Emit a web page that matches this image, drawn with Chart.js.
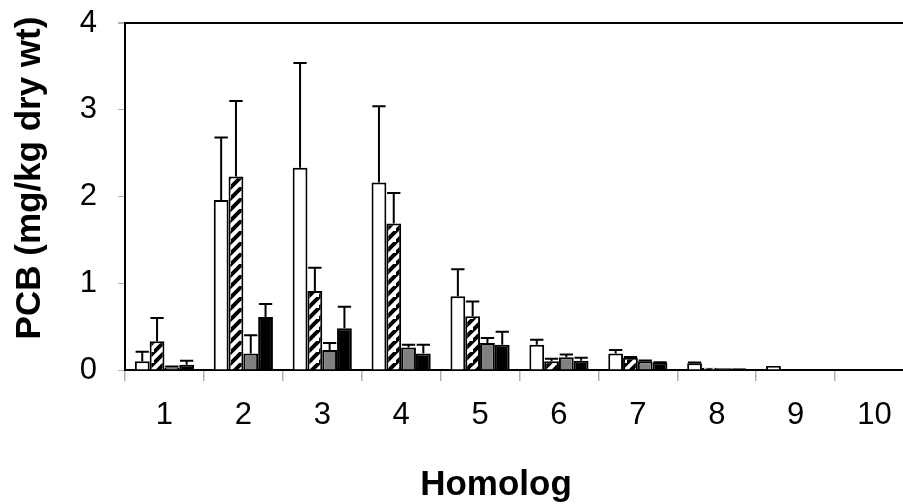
<!DOCTYPE html>
<html>
<head>
<meta charset="utf-8">
<script src="https://cdn.jsdelivr.net/npm/chart.js@4/dist/chart.umd.min.js"></script>
<style>
html,body{margin:0;padding:0;background:#fff;overflow:hidden;width:903px;height:504px;}
canvas{display:block;}
</style>
</head>
<body>
<canvas id="c" width="914" height="504" style="width:914px;height:504px"></canvas>
<script>
const categories = ['1','2','3','4','5','6','7','8','9','10'];
const yTicks = [0,1,2,3,4];
const whiteVals  = [0.10, 1.96, 2.33, 2.16, 0.85, 0.29, 0.19, 0.077, 0.045, 0];
const whiteErr   = [0.11, 0.72, 1.21, 0.88, 0.31, 0.06, 0.04, 0.010, 0, 0];
const hatchVals  = [0.33, 2.23, 0.91, 1.69, 0.62, 0.10, 0.14, 0.027, 0, 0];
const hatchErr   = [0.27, 0.87, 0.27, 0.35, 0.17, 0.03, 0.01, 0, 0, 0];
const greyVals   = [0.03, 0.19, 0.23, 0.26, 0.31, 0.146, 0.10, 0.02, 0, 0];
const greyErr    = [0.01, 0.21, 0.08, 0.03, 0.06, 0.034, 0.01, 0, 0, 0];
const blackVals  = [0.06, 0.61, 0.48, 0.19, 0.29, 0.107, 0.085, 0.02, 0, 0];
const blackErr   = [0.047, 0.15, 0.25, 0.10, 0.15, 0.033, 0.005, 0, 0, 0];
const yTitle = 'PCB (mg/kg dry wt)';
const xTitle = 'Homolog';

function hatch(){
  const t = document.createElement('canvas');
  const s = 11;
  t.width = s; t.height = s;
  const g = t.getContext('2d');
  g.fillStyle = '#fff'; g.fillRect(0,0,s,s);
  g.strokeStyle = '#000'; g.lineWidth = 4;
  g.beginPath();
  g.moveTo(-2, s+2); g.lineTo(s+2, -2);
  g.moveTo(-2-s, s+2); g.lineTo(2, -2);
  g.moveTo(s-2, 2*s+2); g.lineTo(2*s+2, s-2);
  g.stroke();
  return document.getElementById('c').getContext('2d').createPattern(t, 'repeat');
}

const errs = [whiteErr, hatchErr, greyErr, blackErr];

const errorBars = {
  id: 'errorBars',
  afterDatasetsDraw(chart){
    const ctx = chart.ctx;
    const ys = chart.scales.y;
    ctx.save();
    ctx.strokeStyle = '#000';
    ctx.lineWidth = 2;
    chart.data.datasets.forEach((ds, i) => {
      const meta = chart.getDatasetMeta(i);
      meta.data.forEach((bar, j) => {
        const e = errs[i][j];
        if (!e) return;
        const yTop = ys.getPixelForValue(ds.data[j] + e);
        const x = bar.x;
        const hw = bar.width * 0.45;
        ctx.beginPath();
        ctx.moveTo(x, bar.y);
        ctx.lineTo(x, yTop);
        ctx.moveTo(x - hw, yTop);
        ctx.lineTo(x + hw, yTop);
        ctx.stroke();
      });
    });
    ctx.restore();
  }
};

const titles = {
  id: 'titles',
  afterDraw(chart){
    const ctx = chart.ctx;
    ctx.save();
    ctx.fillStyle = '#000';
    ctx.font = 'bold 35px "Liberation Sans", Arial, sans-serif';
    ctx.textAlign = 'center';
    ctx.textBaseline = 'alphabetic';
    ctx.fillText(xTitle, 496, 495);
    ctx.translate(40, 178);
    ctx.rotate(-Math.PI/2);
    ctx.fillText(yTitle, 0, 0);
    ctx.restore();
  }
};

const common = {borderColor:'#000', borderWidth:2, borderSkipped:'start', categoryPercentage:0.75, barPercentage:1.0};

new Chart(document.getElementById('c'), {
  type: 'bar',
  data: {
    labels: categories,
    datasets: [
      Object.assign({label:'A', data: whiteVals, backgroundColor:'#fff'}, common),
      Object.assign({label:'B', data: hatchVals, backgroundColor: hatch()}, common),
      Object.assign({label:'C', data: greyVals, backgroundColor:'#808080'}, common),
      Object.assign({label:'D', data: blackVals, backgroundColor:'#000'}, common)
    ]
  },
  options: {
    responsive: false,
    animation: false,
    layout: {padding: {top: 23, left: 0, right: 0, bottom: 0}},
    plugins: {legend: {display:false}, tooltip: {enabled:false}},
    scales: {
      x: {
        grid: {offset: true, drawOnChartArea: false, tickLength: 11, tickColor: '#b0b0b0', lineWidth: 1.5},
        border: {color:'#000', width: 2},
        ticks: {font: {family:'"Liberation Sans", Arial, sans-serif', size: 31}, color:'#000', padding: 16, maxRotation: 0},
        afterFit(s){ s.height = 134; s.paddingLeft = 0; s.paddingRight = 0; }
      },
      y: {
        min: 0, max: 4,
        afterBuildTicks(s){ s.ticks = yTicks.map(v => ({value: v})); },
        grid: {
          drawOnChartArea: true,
          color: c => (c.tick && c.tick.value === 4) ? '#000' : 'rgba(0,0,0,0)',
          lineWidth: c => (c.tick && c.tick.value === 4) ? 2 : 1,
          tickColor: '#b0b0b0', tickLength: 7
        },
        border: {color:'#000', width: 2},
        ticks: {font: {family:'"Liberation Sans", Arial, sans-serif', size: 31}, color:'#000', padding: 21},
        afterFit(s){ s.width = 125; s.paddingTop = 0; s.paddingBottom = 0; }
      }
    }
  },
  plugins: [errorBars, titles]
});
</script>
</body>
</html>
